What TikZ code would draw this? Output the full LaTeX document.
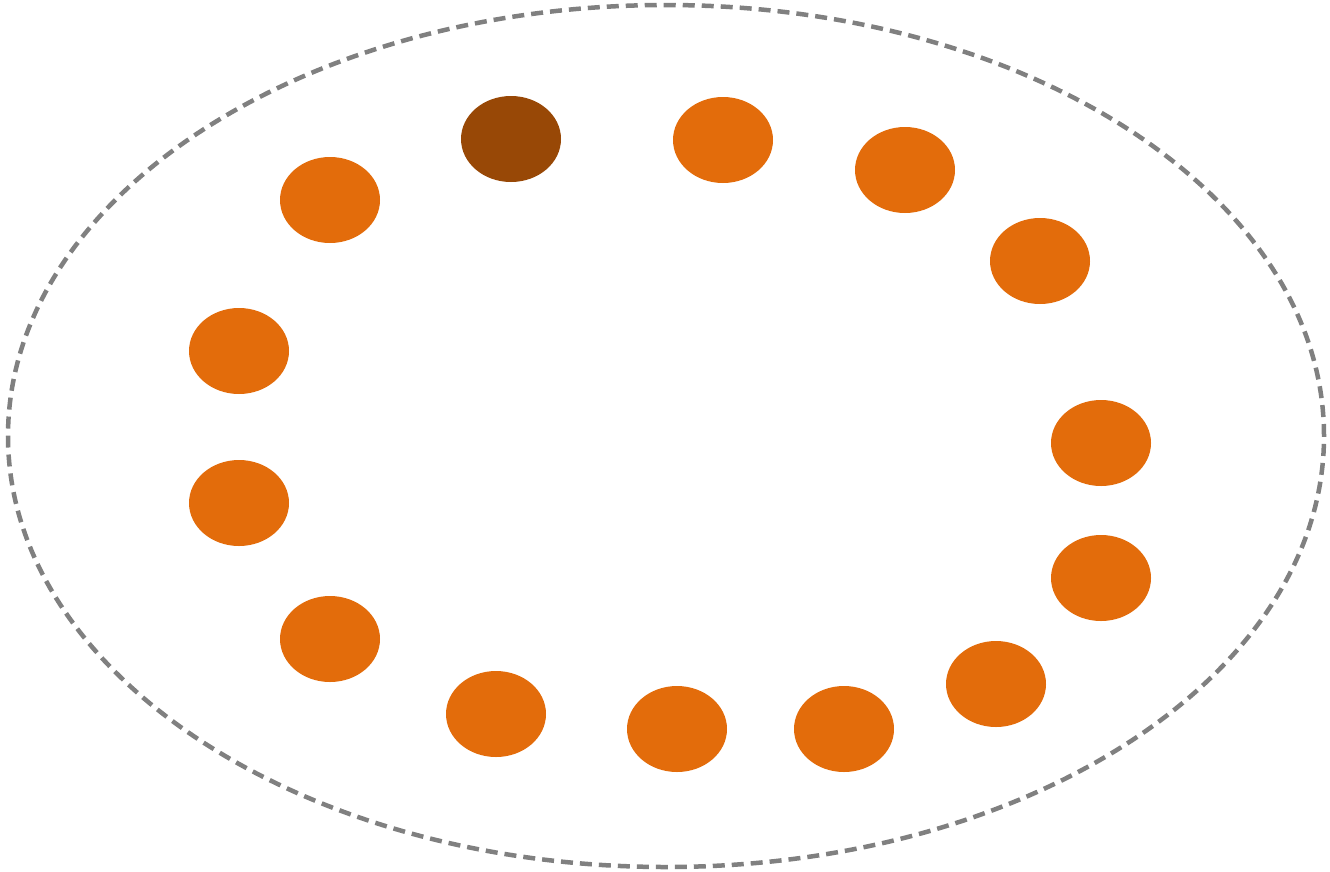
\documentclass[tikz,border=0pt]{standalone}
\usepackage{tikz}
\usetikzlibrary{shapes.geometric}
\definecolor{dotOrange}{RGB}{227,108,11}
\definecolor{dotBrown}{RGB}{152,72,6}
\definecolor{ringGray}{RGB}{128,128,128}

\begin{document}
\begin{tikzpicture}[
    x=1pt, y=-1pt,
    dot node/.style={ellipse, fill=dotOrange, inner sep=0pt, minimum width=100pt, minimum height=86pt},
    first node/.style={dot node, fill=dotBrown},
    ring node/.style={ellipse, draw=ringGray, line width=4.5pt, dash pattern=on 12pt off 7pt, inner sep=0pt, minimum width=1316pt, minimum height=862pt}
]
  \useasboundingbox (0,0) rectangle (1330,871);
  \node[ring node] (ring) at (666,436) {};

  \node[first node] (d1) at (511,139) {};
  \node[dot node] (d2) at (723,140) {};
  \node[dot node] (d3) at (905,170) {};
  \node[dot node] (d4) at (1040,261) {};
  \node[dot node] (d5) at (1101,443) {};
  \node[dot node] (d6) at (1101,578) {};
  \node[dot node] (d7) at (996,684) {};
  \node[dot node] (d8) at (844,729) {};
  \node[dot node] (d9) at (677,729) {};
  \node[dot node] (d10) at (496,714) {};
  \node[dot node] (d11) at (330,639) {};
  \node[dot node] (d12) at (239,503) {};
  \node[dot node] (d13) at (239,351) {};
  \node[dot node] (d14) at (330,200) {};
\end{tikzpicture}
\end{document}
